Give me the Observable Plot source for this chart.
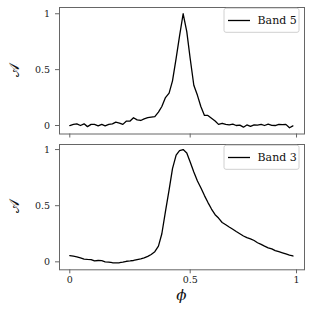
<!DOCTYPE html>
<html><head><meta charset="utf-8">
<script src="https://cdn.jsdelivr.net/npm/d3@7"></script>
<script src="https://cdn.jsdelivr.net/npm/@observablehq/plot@0.6"></script>
<style>
body{margin:0;background:#fff}
#chart{width:312px;height:312px;overflow:hidden}
svg{display:block}
</style></head><body><div id="chart"></div>
<script>
const phase = [0, .016, .031, .047, .063, .078, .094, .109, .125, .141, .156, .172, .188, .203, .219, .234,
  .25, .266, .281, .297, .313, .328, .344, .359, .375, .391, .406, .422, .438, .453, .469, .484,
  .5, .516, .531, .547, .563, .578, .594, .609, .625, .641, .656, .672, .688, .703, .719, .734,
  .75, .766, .781, .797, .813, .828, .844, .859, .875, .891, .906, .922, .938, .953, .969, .984];
const band5 = [0.00, 0.01, 0.015, 0.0, 0.015, -0.01, 0.01, 0.01, -0.003, 0.01, -0.003, 0.01, 0.015, 0.03, 0.022, 0.01,
  0.04, 0.04, 0.07, 0.05, 0.045, 0.06, 0.07, 0.075, 0.08, 0.12, 0.17, 0.25, 0.29, 0.40, 0.60, 0.80,
  1.00, 0.84, 0.60, 0.36, 0.27, 0.17, 0.09, 0.09, 0.065, 0.04, 0.01, 0.02, 0.01, 0.005, 0.012, 0.0,
  0.003, -0.015, 0.005, -0.008, 0.006, 0.004, 0.01, 0.0, 0.012, 0.002, 0.0, 0.01, 0.008, 0.01, -0.02, -0.003];
const band3 = [0.055, 0.05, 0.045, 0.035, 0.025, 0.022, 0.02, 0.008, 0.012, 0.01, 0.0, -0.003, -0.008, -0.01, -0.008, -0.003,
  0.005, 0.008, 0.012, 0.02, 0.027, 0.035, 0.048, 0.065, 0.09, 0.14, 0.25, 0.45, 0.64, 0.83, 0.95, 0.99,
  1.0, 0.97, 0.89, 0.80, 0.72, 0.66, 0.59, 0.53, 0.47, 0.42, 0.39, 0.35, 0.33, 0.31, 0.29, 0.27,
  0.25, 0.23, 0.215, 0.205, 0.19, 0.17, 0.155, 0.14, 0.125, 0.115, 0.10, 0.09, 0.08, 0.07, 0.06, 0.052];
const seriesNames = ["Band 5", "Band 3"];
const xTicks = [0, 0.531, 1];
const xTickLabels = ["0", "0.5", "1"];
const yTicks = [0, 0.5, 1];
const yTickLabels = ["0", "0.5", "1"];
const xLabel = "ϕ";
const yLabel = "𝒜";

const serif = "'DejaVu Serif', 'Liberation Serif', serif";

function panel({values, name, height, marginTop, marginBottom, yDomain, showXLabels}) {
  const data = phase.map((p, i) => ({phase: p, a: values[i]}));
  const svg = Plot.plot({
    width: 312, height, marginLeft: 59, marginRight: 8, marginTop, marginBottom,
    style: {fontFamily: serif, fontSize: "9.5px", color: "#222", background: "white"},
    x: {domain: [-0.0454, 1.0352]},
    y: {domain: yDomain},
    marks: [
      Plot.axisY({ticks: yTicks, tickFormat: (d, i) => yTickLabels[yTicks.indexOf(d)], tickSize: 4, tickPadding: 5.5, stroke: "#666", fill: "#222", label: null}),
      Plot.axisX({ticks: xTicks, tickFormat: d => showXLabels ? xTickLabels[xTicks.indexOf(d)] : "", tickSize: 4, tickPadding: 2, stroke: "#666", fill: "#222", label: null}),
      Plot.line(data, {x: "phase", y: "a", stroke: "black", strokeWidth: 1.3}),
      Plot.frame({stroke: "#666", strokeWidth: 1})
    ]
  });
  const s = d3.select(svg);
  const fy = marginTop;
  const g = s.append("g");
  g.append("rect").attr("x", 224).attr("y", fy + 1.3).attr("width", 75).attr("height", 24).attr("rx", 2)
    .attr("fill", "white").attr("fill-opacity", 0.85).attr("stroke", "#d0d0d0").attr("stroke-width", 1);
  g.append("line").attr("x1", 228).attr("x2", 250).attr("y1", fy + 13.5).attr("y2", fy + 13.5)
    .attr("stroke", "black").attr("stroke-width", 1.3);
  g.append("text").attr("x", 257.5).attr("y", fy + 13.5).attr("dominant-baseline", "central")
    .attr("text-anchor", "start")
    .attr("font-family", serif).attr("font-size", "11px").attr("fill", "#111").text(name);
  const cy = marginTop + (height - marginTop - marginBottom) / 2;
  s.append("text").attr("transform", `translate(14,${cy}) rotate(-90)`).attr("text-anchor", "middle")
    .attr("dominant-baseline", "central").attr("font-family", serif + ", 'DejaVu Sans', 'Noto Sans'")
    .attr("font-size", "14px").attr("fill", "#111").text(yLabel);
  if (showXLabels) {
    s.append("text").attr("x", 181.3).attr("y", 155).attr("text-anchor", "middle")
      .attr("dominant-baseline", "central").attr("font-family", serif).attr("font-style", "italic")
      .attr("font-size", "15px").attr("fill", "#111").text(xLabel);
  }
  return svg;
}

const root = document.getElementById("chart");
root.append(panel({values: band5, name: seriesNames[0], height: 140, marginTop: 7, marginBottom: 6.5, yDomain: [-0.076, 1.056], showXLabels: false}));
root.append(panel({values: band3, name: seriesNames[1], height: 172, marginTop: 4, marginBottom: 42.7, yDomain: [-0.071, 1.045], showXLabels: true}));
</script></body></html>
